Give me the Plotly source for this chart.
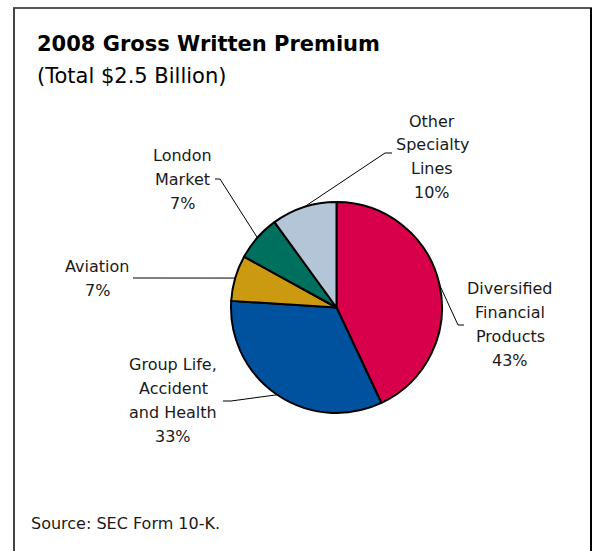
import math
import plotly.graph_objects as go

W, H = 594, 551

# ---- data ----
categories = ["Diversified Financial Products", "Group Life, Accident and Health",
              "Aviation", "London Market", "Other Specialty Lines"]
label_lines = [["Diversified", "Financial", "Products"],
               ["Group Life,", "Accident", "and Health"],
               ["Aviation"],
               ["London", "Market"],
               ["Other", "Specialty", "Lines"]]
shares = [43, 33, 7, 7, 10]
colors = ["#D8004A", "#00529E", "#CC9A10", "#00705E", "#B3C5D6"]

title = "2008 Gross Written Premium"
subtitle = "(Total $2.5 Billion)"
source = "Source: SEC Form 10-K."

# ---- layout helpers (pixel -> paper) ----
def px(x):
    return x / W

def py(y):
    return 1 - y / H

cx, cy, r = 336.5, 307.5, 105.5
FONT = "DejaVu Sans"
TXT = "#1a1a1a"

fig = go.Figure()
fig.add_trace(go.Pie(
    labels=categories, values=shares, sort=False, direction="clockwise",
    rotation=0, textinfo="none", hoverinfo="label+percent",
    marker=dict(colors=colors, line=dict(color="black", width=2)),
    domain=dict(x=[px(cx - r), px(cx + r)], y=[py(cy + r), py(cy - r)]),
    showlegend=False,
))

# label block placement: (center x, first line y, elbow, end of leader)
placement = [
    dict(x=510, y0=288, elbow=(458, 325), end=(464, 325)),
    dict(x=173, y0=364, elbow=(231, 401), end=(223, 401)),
    dict(x=97, y0=266, elbow=(140, 278), end=(133, 278)),
    dict(x=182, y0=155, elbow=(220, 179), end=(215, 179)),
    dict(x=432, y0=121, elbow=(385, 153), end=(392, 153)),
]
LINE_H = 24

annotations = []
shapes = []
total = sum(shares)
cum = 0
for i, v in enumerate(shares):
    mid = (cum + v / 2) / total * 2 * math.pi
    cum += v
    sx = cx + r * math.sin(mid)
    sy = cy - r * math.cos(mid)
    p = placement[i]
    lines = label_lines[i] + [f"{round(v / total * 100)}%"]
    for k, t in enumerate(lines):
        annotations.append(dict(
            x=px(p["x"]), y=py(p["y0"] + k * LINE_H), xref="paper", yref="paper",
            text=t, showarrow=False, xanchor="center", yanchor="middle",
            font=dict(family=FONT, size=16, color=TXT)))
    ex, ey = p["elbow"]
    tx, ty = p["end"]
    shapes.append(dict(type="path", xref="paper", yref="paper",
                       path=f"M {px(sx)} {py(sy)} L {px(ex)} {py(ey)} L {px(tx)} {py(ty)}",
                       line=dict(color="black", width=1)))

# titles and source
annotations += [
    dict(x=px(35), y=py(44), xref="paper", yref="paper", text=f"<b>{title}</b>",
         showarrow=False, xanchor="left", yanchor="middle",
         font=dict(family=FONT, size=21, color="black")),
    dict(x=px(35), y=py(76), xref="paper", yref="paper", text=subtitle,
         showarrow=False, xanchor="left", yanchor="middle",
         font=dict(family=FONT, size=21, color="black")),
    dict(x=px(29), y=py(523), xref="paper", yref="paper", text=source,
         showarrow=False, xanchor="left", yanchor="middle",
         font=dict(family=FONT, size=16, color=TXT)),
]

# frame
shapes += [
    dict(type="line", xref="paper", yref="paper", x0=px(13), y0=py(8), x1=px(592), y1=py(8),
         line=dict(color="#555555", width=2)),
    dict(type="line", xref="paper", yref="paper", x0=px(14), y0=py(8), x1=px(14), y1=py(560),
         line=dict(color="#444444", width=2)),
    dict(type="line", xref="paper", yref="paper", x0=px(591), y0=py(8), x1=px(591), y1=py(560),
         line=dict(color="black", width=2)),
]

fig.update_layout(
    width=W, height=H, margin=dict(l=0, r=0, t=0, b=0),
    paper_bgcolor="white", plot_bgcolor="white",
    annotations=annotations, shapes=shapes,
)
fig.write_html("out.html")
